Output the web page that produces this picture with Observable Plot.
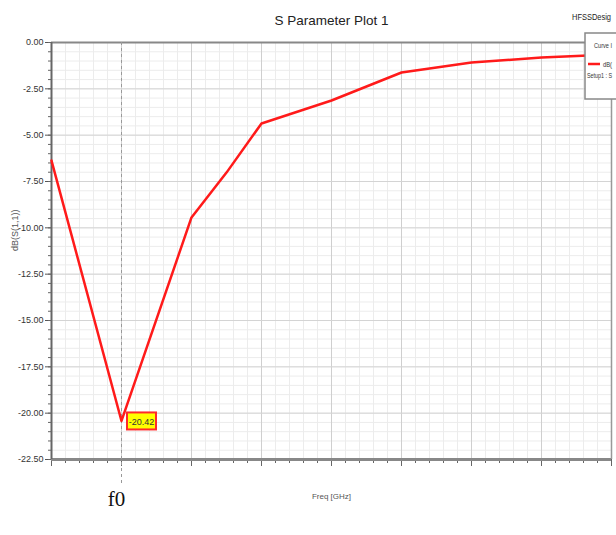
<!DOCTYPE html>
<html>
<head>
<meta charset="utf-8">
<script src="https://cdn.jsdelivr.net/npm/d3@7"></script>
<script src="https://cdn.jsdelivr.net/npm/@observablehq/plot@0.6"></script>
<style>
  html, body { margin: 0; padding: 0; background: #fff; }
  #chart svg { display: block; }
</style>
</head>
<body>
<div id="chart"></div>
<script>
// Frequency steps (major grid divisions) and S11 in dB
const freq = [0, 1, 2, 2.5, 3, 4, 5, 6, 7, 8];
const s11dB = [-6.37, -20.42, -9.44, -7.02, -4.37, -3.13, -1.62, -1.08, -0.81, -0.65];
const yTicks = [0, -2.5, -5, -7.5, -10, -12.5, -15, -17.5, -20, -22.5];
const titleText = "S Parameter Plot 1";
const designText = "HFSSDesig";
const xLabel = "Freq [GHz]";
const yLabel = "dB(S(1,1))";
const markerLabel = "f0";
const legendTitle = "Curve I";
const legendSeries = "dB(";
const legendSetup = "Setup1 : S";

const data = freq.map((f, i) => ({f, v: s11dB[i]}));
const iMin = d3.minIndex(s11dB);
const minPt = [data[iMin]];

const sans = "'Liberation Sans', Arial, sans-serif";

const chart = Plot.plot({
  width: 616,
  height: 535,
  marginLeft: 51,
  marginRight: 5,
  marginTop: 42,
  marginBottom: 76,
  style: {fontFamily: sans, background: "#fff"},
  x: {domain: [0, 8], axis: null},
  y: {domain: [-22.5, 0], axis: null},
  marks: [
    // minor grid
    Plot.gridX({ticks: d3.range(0, 8.001, 0.2), stroke: "#ececec", strokeOpacity: 1}),
    Plot.gridY({ticks: d3.range(-22.5, 0.001, 0.5), stroke: "#ececec", strokeOpacity: 1}),
    // major grid
    Plot.gridX({ticks: d3.range(0, 8.001, 1), stroke: "#cfcfcf", strokeOpacity: 1}),
    Plot.gridY({ticks: yTicks, stroke: "#d4d4d4", strokeOpacity: 1}),
    // y axis labels and ticks
    Plot.axisY({ticks: yTicks, tickFormat: d => d.toFixed(2), tickSize: 6, tickPadding: 2,
      fontSize: 9, stroke: "#555", color: "#333", label: null}),
    Plot.axisY({ticks: d3.range(-22.5, 0.001, 0.5), tickSize: 3, text: null, label: null, stroke: "#666"}),
    // x axis ticks
    Plot.axisX({ticks: d3.range(0, 8.001, 1), tickSize: 7, text: null, label: null, stroke: "#666"}),
    Plot.axisX({ticks: d3.range(0, 8.001, 0.2), tickSize: 4, text: null, label: null, stroke: "#666"}),
    // frame lines
    Plot.ruleY([0], {stroke: "#888", strokeWidth: 2}),
    Plot.ruleY([-22.5], {stroke: "#888", strokeWidth: 3}),
    Plot.ruleX([0], {stroke: "#666", strokeWidth: 2}),
    Plot.ruleX([8], {stroke: "#999", strokeWidth: 1.5}),
    // f0 marker line
    Plot.ruleX(minPt, {x: "f", y1: 0, y2: -23.9, stroke: "#999", strokeDasharray: "3,3"}),
    Plot.text(minPt, {x: "f", text: () => markerLabel, frameAnchor: "bottom", dy: 46, dx: -5,
      fontSize: 21, fontFamily: "'Liberation Serif', 'DejaVu Serif', serif", fill: "#111"}),
    // data curve
    Plot.line(data, {x: "f", y: "v", stroke: "#ff1a1a", strokeWidth: 2.5}),
    // marker value label
    Plot.rect(minPt, {x1: "f", x2: "f", y1: "v", y2: "v", insetLeft: 6, insetRight: -35,
      insetTop: -8, insetBottom: -9, fill: "#ffff00", stroke: "#ff2a2a", strokeWidth: 2}),
    Plot.text(minPt, {x: "f", y: "v", text: d => d.v.toFixed(2), dx: 20, dy: 1,
      fontSize: 9, fill: "#333"}),
    // titles
    Plot.text([titleText], {frameAnchor: "top", dy: -27, fontSize: 13.5, fill: "#222"}),
    Plot.text([yLabel], {frameAnchor: "left", dx: -36, rotate: -90, fontSize: 9, fill: "#555"}),
    Plot.text([xLabel], {frameAnchor: "bottom", dy: 39, fontSize: 8, fill: "#555"})
  ]
});

document.getElementById("chart").append(chart);

// Design name and legend box (Curve Info), overlapping the top right of the plot
const svg = d3.select(chart);
svg.append("text").attr("x", 572).attr("y", 20).attr("text-anchor", "start")
  .attr("font-family", sans).attr("font-size", 9.5).attr("fill", "#222")
  .attr("textLength", 39).attr("lengthAdjust", "spacingAndGlyphs").text(designText);
const lg = svg.append("g").attr("font-family", sans).attr("font-size", 8)
  .attr("fill", "#333").attr("text-anchor", "start");
lg.append("rect").attr("x", 585).attr("y", 33).attr("width", 40).attr("height", 66)
  .attr("fill", "#fff").attr("stroke", "#888").attr("stroke-width", 1.5);
lg.append("text").attr("x", 594).attr("y", 48).attr("textLength", 18)
  .attr("lengthAdjust", "spacingAndGlyphs").text(legendTitle);
lg.append("line").attr("x1", 588).attr("x2", 600).attr("y1", 64).attr("y2", 64)
  .attr("stroke", "#ff1a1a").attr("stroke-width", 2.5);
lg.append("text").attr("x", 603).attr("y", 67).attr("textLength", 9)
  .attr("lengthAdjust", "spacingAndGlyphs").text(legendSeries);
lg.append("text").attr("x", 587).attr("y", 78).attr("textLength", 25)
  .attr("lengthAdjust", "spacingAndGlyphs").text(legendSetup);
</script>
</body>
</html>
